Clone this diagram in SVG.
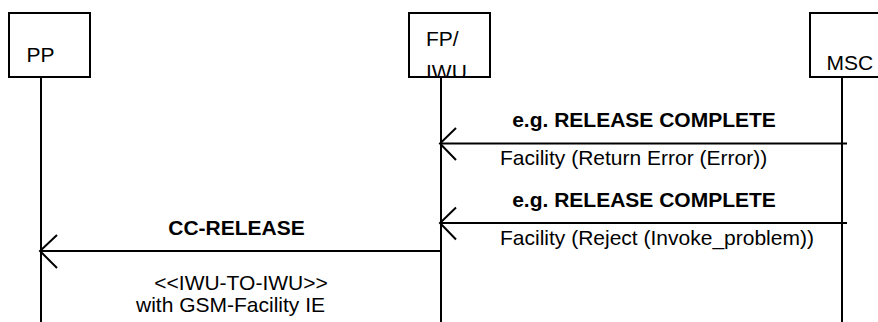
<svg xmlns="http://www.w3.org/2000/svg" width="878" height="322" viewBox="0 0 878 322">
<style>
.box{fill:#fff;stroke:#000;stroke-width:2}
.life{stroke:#000;stroke-width:2;fill:none}
.msg{stroke:#000;stroke-width:2;fill:none}
.head{stroke:#000;stroke-width:2;fill:none}
text{font-family:"Liberation Sans",Arial,sans-serif;font-size:21px;fill:#000}
.b{font-weight:bold}
</style>
<defs>
<clipPath id="fpclip"><rect x="409" y="13" width="81" height="64"/></clipPath>
</defs>
<g id="PP">
<rect class="box" x="9" y="13" width="81" height="64"/>
<text x="26.5" y="62">PP</text>
<line class="life" x1="41" y1="77" x2="41" y2="322"/>
</g>
<g id="FP_IWU">
<rect class="box" x="409" y="13" width="81" height="64"/>
<g clip-path="url(#fpclip)">
<text x="426" y="46">FP/</text>
<text x="426" y="79">IWU</text>
</g>
<line class="life" x1="441" y1="77" x2="441" y2="322"/>
</g>
<g id="MSC">
<rect class="box" x="810" y="13" width="80" height="64"/>
<text x="826.5" y="70">MSC</text>
<line class="life" x1="842" y1="77" x2="842" y2="322"/>
</g>
<g id="connectors">
<line class="msg" x1="847" y1="143.5" x2="441" y2="143.5"/>
<polyline class="head" points="456,128 440,143.5 456,160"/>
<text class="b" x="644" y="127" text-anchor="middle">e.g. RELEASE COMPLETE</text>
<text x="500" y="165">Facility (Return Error (Error))</text>
<line class="msg" x1="847" y1="223" x2="441" y2="223"/>
<polyline class="head" points="456,207.5 440,223 456,239.5"/>
<text class="b" x="644" y="207" text-anchor="middle">e.g. RELEASE COMPLETE</text>
<text x="500" y="245">Facility (Reject (Invoke_problem))</text>
<line class="msg" x1="441" y1="251" x2="41" y2="251"/>
<polyline class="head" points="57,235 40,251 57,268"/>
<text class="b" x="236.5" y="235" text-anchor="middle">CC-RELEASE</text>
<text x="241" y="289.5" text-anchor="middle">&lt;&lt;IWU-TO-IWU&gt;&gt;</text>
<text x="230.5" y="311.5" text-anchor="middle">with GSM-Facility IE</text>
</g>
</svg>
